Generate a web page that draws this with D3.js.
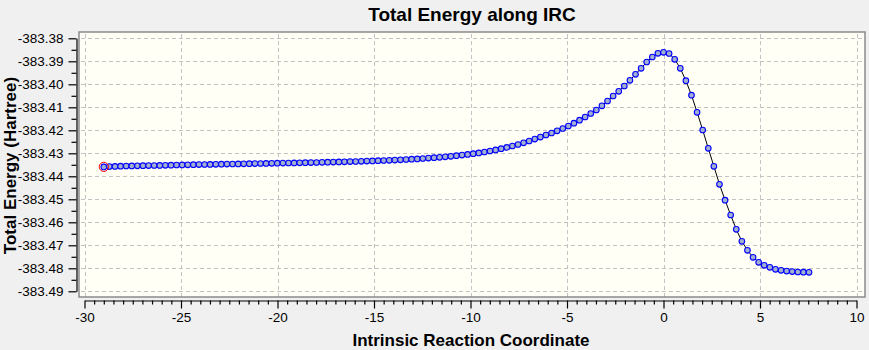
<!DOCTYPE html>
<html>
<head>
<meta charset="utf-8">
<script src="https://cdn.jsdelivr.net/npm/d3@7"></script>
<style>
  html, body { margin: 0; padding: 0; background: #f0f0f0; }
  svg { display: block; }
  text { font-family: "Liberation Sans", Arial, sans-serif; }
</style>
</head>
<body>
<svg id="chart" width="869" height="350"></svg>
<script>
// IRC reaction coordinate for every point (amu^1/2 bohr)
const coords = [
  -29.00, -28.71, -28.42, -28.13, -27.84, -27.55, -27.26, -26.97, -26.68, -26.39,
  -26.10, -25.81, -25.52, -25.23, -24.94, -24.65, -24.36, -24.07, -23.78, -23.49,
  -23.20, -22.91, -22.62, -22.33, -22.04, -21.75, -21.46, -21.17, -20.88, -20.59,
  -20.30, -20.01, -19.72, -19.43, -19.14, -18.85, -18.56, -18.27, -17.98, -17.69,
  -17.40, -17.11, -16.82, -16.53, -16.24, -15.95, -15.66, -15.37, -15.08, -14.79,
  -14.50, -14.21, -13.92, -13.63, -13.34, -13.05, -12.76, -12.47, -12.18, -11.89,
  -11.60, -11.31, -11.02, -10.73, -10.44, -10.15, -9.86, -9.57, -9.28, -8.99,
  -8.70, -8.41, -8.12, -7.83, -7.54, -7.25, -6.96, -6.67, -6.38, -6.09,
  -5.80, -5.51, -5.22, -4.93, -4.64, -4.35, -4.06, -3.77, -3.48, -3.19,
  -2.90, -2.61, -2.32, -2.03, -1.74, -1.45, -1.16, -0.87, -0.58, -0.29,
  0.00, 0.29, 0.58, 0.87, 1.16, 1.45, 1.74, 2.03, 2.32, 2.61,
  2.90, 3.19, 3.48, 3.77, 4.06, 4.35, 4.64, 4.93, 5.22, 5.51,
  5.80, 6.09, 6.38, 6.67, 6.96, 7.25, 7.54
];

// Total energy at each point (Hartree)
const energies = [
  -383.43591, -383.43578, -383.43570, -383.43561, -383.43552, -383.43548, -383.43543, -383.43539, -383.43535, -383.43530,
  -383.43526, -383.43522, -383.43517, -383.43509, -383.43504, -383.43500, -383.43496, -383.43491, -383.43487, -383.43483,
  -383.43478, -383.43474, -383.43470, -383.43465, -383.43461, -383.43457, -383.43452, -383.43448, -383.43443, -383.43439,
  -383.43435, -383.43430, -383.43426, -383.43422, -383.43417, -383.43413, -383.43409, -383.43404, -383.43400, -383.43391,
  -383.43387, -383.43383, -383.43374, -383.43370, -383.43361, -383.43357, -383.43348, -383.43339, -383.43330, -383.43322,
  -383.43313, -383.43304, -383.43296, -383.43283, -383.43270, -383.43257, -383.43243, -383.43226, -383.43209, -383.43191,
  -383.43174, -383.43152, -383.43130, -383.43104, -383.43078, -383.43048, -383.43017, -383.42983, -383.42943, -383.42900,
  -383.42852, -383.42800, -383.42743, -383.42683, -383.42617, -383.42543, -383.42465, -383.42383, -383.42296, -383.42204,
  -383.42117, -383.42022, -383.41922, -383.41813, -383.41691, -383.41561, -383.41422, -383.41270, -383.41117, -383.40935,
  -383.40726, -383.40509, -383.40304, -383.40074, -383.39826, -383.39565, -383.39304, -383.39030, -383.38813, -383.38652,
  -383.38609, -383.38661, -383.38913, -383.39304, -383.39843, -383.40474, -383.41217, -383.41987, -383.42783, -383.43565,
  -383.44348, -383.45039, -383.45683, -383.46304, -383.46826, -383.47217, -383.47522, -383.47739, -383.47870, -383.47957,
  -383.48043, -383.48087, -383.48122, -383.48143, -383.48161, -383.48170, -383.48174
];

const xMajorTicks = [-30, -25, -20, -15, -10, -5, 0, 5, 10];
const yMajorTicks = [-383.38, -383.39, -383.40, -383.41, -383.42, -383.43,
                     -383.44, -383.45, -383.46, -383.47, -383.48, -383.49];

const titleText = "Total Energy along IRC";
const xTitle = "Intrinsic Reaction Coordinate";
const yTitle = "Total Energy (Hartree)";

const svg = d3.select("#chart");
const points = coords.map((c, i) => ({ x: c, y: energies[i] }));

// plot frame
const frame = { left: 79, top: 32, right: 865, bottom: 297 };

const x = d3.scaleLinear().domain([-30, 10]).range([84.5, 856.5]);
const y = d3.scaleLinear().domain([-383.49, -383.38]).range([291.3, 38.3]);

// minor tick positions (half steps)
const xMinor = d3.range(-30, 10.001, 0.5).map(v => +v.toFixed(2))
  .filter(v => !xMajorTicks.includes(v));
const yMinor = d3.range(0, yMajorTicks.length - 1)
  .map(i => (yMajorTicks[i] + yMajorTicks[i + 1]) / 2);

svg.append("rect")
  .attr("x", frame.left).attr("y", frame.top)
  .attr("width", frame.right - frame.left)
  .attr("height", frame.bottom - frame.top)
  .attr("fill", "#fffff6");

// dashed grid
const grid = svg.append("g")
  .attr("stroke", "#c3c3c3")
  .attr("stroke-width", 1)
  .attr("stroke-dasharray", "4,3");
grid.selectAll("line.h").data(yMajorTicks).join("line")
  .attr("class", "h")
  .attr("x1", frame.left + 2).attr("x2", frame.right)
  .attr("y1", d => Math.round(y(d)) + 0.5).attr("y2", d => Math.round(y(d)) + 0.5);
grid.selectAll("line.v").data(xMajorTicks).join("line")
  .attr("class", "v")
  .attr("y1", frame.top + 2).attr("y2", frame.bottom)
  .attr("x1", d => Math.round(x(d)) + 0.5).attr("x2", d => Math.round(x(d)) + 0.5);

svg.append("rect")
  .attr("x", frame.left).attr("y", frame.top)
  .attr("width", frame.right - frame.left)
  .attr("height", frame.bottom - frame.top)
  .attr("fill", "none")
  .attr("stroke", "#8a8a8a")
  .attr("stroke-width", 1.5);

// axes (plain hyphen for negative numbers)
svg.append("g")
  .attr("transform", "translate(76.5,0)")
  .call(d3.axisLeft(y).tickValues(yMajorTicks).tickFormat(d => d.toFixed(2))
    .tickSize(8).tickSizeOuter(0).tickPadding(5));
svg.append("g")
  .attr("transform", "translate(76.5,0)")
  .call(d3.axisLeft(y).tickValues(yMinor).tickFormat("")
    .tickSize(5).tickSizeOuter(0))
  .select(".domain").remove();

svg.append("g")
  .attr("transform", "translate(0,300.5)")
  .call(d3.axisBottom(x).tickValues(xMajorTicks).tickFormat(d => String(d))
    .tickSize(8).tickSizeOuter(0).tickPadding(4));
svg.append("g")
  .attr("transform", "translate(0,300.5)")
  .call(d3.axisBottom(x).tickValues(xMinor).tickFormat("")
    .tickSize(4).tickSizeOuter(0))
  .select(".domain").remove();

svg.selectAll(".tick text")
  .attr("font-family", "'Liberation Sans', Arial, sans-serif")
  .attr("font-size", 13.5)
  .attr("fill", "#000");
svg.selectAll(".tick line, .domain").attr("stroke", "#000").attr("stroke-width", 1.2);

// energy profile
svg.append("path")
  .datum(points)
  .attr("fill", "none")
  .attr("stroke", "#000")
  .attr("stroke-width", 1)
  .attr("d", d3.line().x(d => x(d.x)).y(d => y(d.y)));

svg.append("g")
  .selectAll("circle")
  .data(points)
  .join("circle")
  .attr("cx", d => x(d.x))
  .attr("cy", d => y(d.y))
  .attr("r", 2.8)
  .attr("fill", "#a3afcf")
  .attr("stroke", "#0000ff")
  .attr("stroke-width", 1.1);

// highlight on the current (first) point
svg.append("circle")
  .attr("cx", x(points[0].x))
  .attr("cy", y(points[0].y))
  .attr("r", 4.6)
  .attr("fill", "none")
  .attr("stroke", "#ff0000")
  .attr("stroke-width", 1);

// titles
svg.append("text")
  .attr("x", 472).attr("y", 21)
  .attr("text-anchor", "middle")
  .attr("font-size", 19).attr("font-weight", "bold")
  .text(titleText);

svg.append("text")
  .attr("x", 471).attr("y", 346)
  .attr("text-anchor", "middle")
  .attr("font-size", 17).attr("font-weight", "bold")
  .text(xTitle);

svg.append("text")
  .attr("transform", "translate(15.5,165.5) rotate(-90)")
  .attr("text-anchor", "middle")
  .attr("font-size", 17).attr("font-weight", "bold")
  .text(yTitle);
</script>
</body>
</html>
